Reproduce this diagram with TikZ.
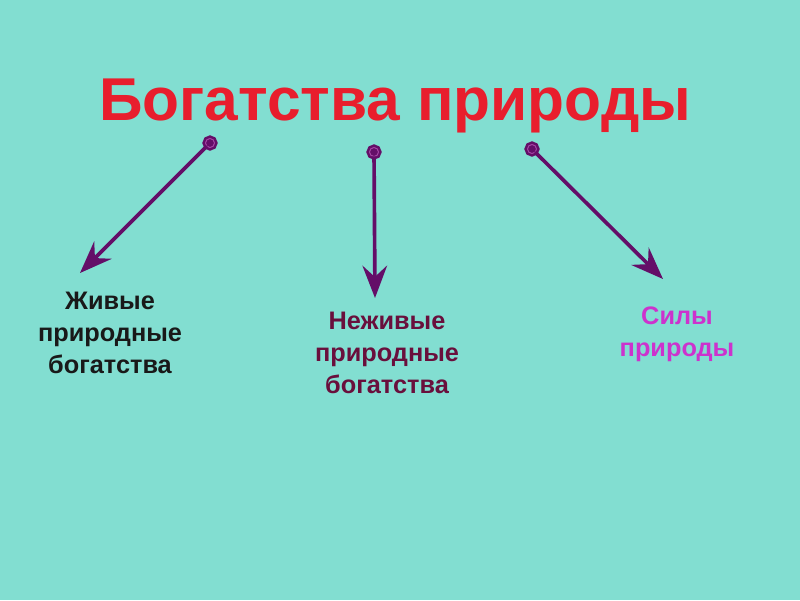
\documentclass[tikz,border=0pt]{standalone}
\usepackage{fontspec}
\setmainfont{Liberation Sans}
\usepackage{xcolor}
\usetikzlibrary{arrows.meta}

\definecolor{bgc}{RGB}{130,222,209}
\definecolor{titlec}{RGB}{232,30,45}
\definecolor{arrowc}{RGB}{100,14,104}
\definecolor{ringc}{RGB}{165,70,165}
\definecolor{livec}{RGB}{25,25,25}
\definecolor{deadc}{RGB}{105,15,60}
\definecolor{forcec}{RGB}{205,50,205}

\begin{document}
\begin{tikzpicture}[x=0.025cm, y=-0.025cm, every node/.style={font=\bfseries}, txt/.style={align=center,font=\fontsize{18}{22.7}\selectfont\bfseries}, dot/.style={circle,fill=arrowc,draw=arrowc,double=ringc,double distance=0.7pt,line width=1.8pt,minimum size=6.4pt,inner sep=0pt}, arr/.style={-{Stealth[length=23pt,width=17.5pt,inset=8pt]},line width=2.6pt,arrowc,shorten <=-1pt}]
\fill[bgc] (0,0) rectangle (800,600);
\useasboundingbox (0,0) rectangle (800,600);
\node[anchor=base,text=titlec,font=\fontsize{43}{50}\selectfont\bfseries] (title) at (395,120) {Богатства природы};
\node[dot] (c1) at (210,143) {};
\node[dot] (c2) at (374,152) {};
\node[dot] (c3) at (532,149) {};
\coordinate (t1) at (80,273);
\coordinate (t2) at (375,298);
\coordinate (t3) at (663,279);
\draw[arr] (c1)--(t1);
\draw[arr] (c2)--(t2);
\draw[arr] (c3)--(t3);
\node[txt,text=livec] (live) at (110,333) {Живые\\природные\\богатства};
\node[txt,text=deadc] (dead) at (387,353) {Неживые\\природные\\богатства};
\node[txt,text=forcec] (force) at (677,334) {Силы\\природы};
\end{tikzpicture}
\end{document}
